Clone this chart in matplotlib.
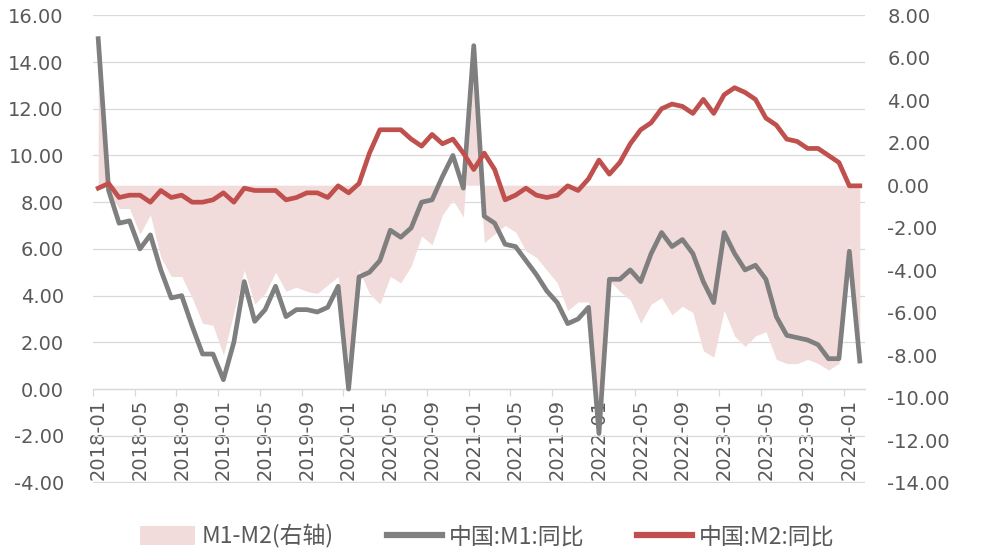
import numpy as np
import pandas as pd
import matplotlib
matplotlib.use('Agg')
import matplotlib.pyplot as plt
from matplotlib.patches import Patch
from matplotlib.lines import Line2D

plt.rcParams['font.family'] = ['DejaVu Sans', 'Noto Sans CJK SC']
plt.rcParams['axes.unicode_minus'] = False

# monthly data 2018-01 .. 2024-02
months = pd.date_range('2018-01-01', '2024-02-01', freq='MS').strftime('%Y-%m').tolist()

# China M1 YoY (%)
m1 = [15.0, 8.5, 7.1, 7.2, 6.0, 6.6, 5.1, 3.9, 4.0, 2.7, 1.5, 1.5,
      0.4, 2.0, 4.6, 2.9, 3.4, 4.4, 3.1, 3.4, 3.4, 3.3, 3.5, 4.4,
      0.0, 4.8, 5.0, 5.5, 6.8, 6.5, 6.9, 8.0, 8.1, 9.1, 10.0, 8.6,
      14.7, 7.4, 7.1, 6.2, 6.1, 5.5, 4.9, 4.2, 3.7, 2.8, 3.0, 3.5,
      -1.9, 4.7, 4.7, 5.1, 4.6, 5.8, 6.7, 6.1, 6.4, 5.8, 4.6, 3.7,
      6.7, 5.8, 5.1, 5.3, 4.7, 3.1, 2.3, 2.2, 2.1, 1.9, 1.3, 1.3,
      5.9, 1.2]

# China M2 YoY (%)
m2 = [8.6, 8.8, 8.2, 8.3, 8.3, 8.0, 8.5, 8.2, 8.3, 8.0, 8.0, 8.1,
      8.4, 8.0, 8.6, 8.5, 8.5, 8.5, 8.1, 8.2, 8.4, 8.4, 8.2, 8.7,
      8.4, 8.8, 10.1, 11.1, 11.1, 11.1, 10.7, 10.4, 10.9, 10.5, 10.7, 10.1,
      9.4, 10.1, 9.4, 8.1, 8.3, 8.6, 8.3, 8.2, 8.3, 8.7, 8.5, 9.0,
      9.8, 9.2, 9.7, 10.5, 11.1, 11.4, 12.0, 12.2, 12.1, 11.8, 12.4, 11.8,
      12.6, 12.9, 12.7, 12.4, 11.6, 11.3, 10.7, 10.6, 10.3, 10.3, 10.0, 9.7,
      8.7, 8.7]

spread = np.array(m1) - np.array(m2)  # M1-M2, right axis
x = np.arange(len(months))

label_color = '#595959'
grid_color = '#d9d9d9'

fig = plt.figure(figsize=(10.04, 5.51), dpi=100)
ax = fig.add_axes([93 / 1004, 1 - 482.5 / 551, (865 - 93) / 1004, (482.5 - 15.3) / 551])
ax2 = ax.twinx()   # fill, right axis
ax3 = ax.twinx()   # lines, left scale, drawn on top

# left axis: grid + labels
ax.set_ylim(-4, 16)
ax.set_yticks(np.arange(-4, 17, 2))
ax.set_yticklabels([f'{v:.2f}' for v in np.arange(-4, 17, 2)])
ax.grid(axis='y', color=grid_color, linewidth=0.9)
ax.tick_params(axis='y', length=0, pad=21, labelsize=14, labelcolor=label_color)
for s in ['top', 'right', 'left']:
    ax.spines[s].set_visible(False)
ax.spines['bottom'].set_position(('data', 0))
ax.spines['bottom'].set_color(grid_color)
ax.spines['bottom'].set_linewidth(0.9)

ax.set_xlim(-0.5, len(months) - 0.5)
ax.set_xticks(x[::4])
ax.set_xticklabels(months[::4], rotation=90)
ax.set_xticks(x[::4] - 0.5, minor=True)
ax.tick_params(axis='x', which='major', length=0, pad=7, labelsize=14, labelcolor=label_color)
ax.tick_params(axis='x', which='minor', length=5, width=0.9, color=grid_color, direction='out')

# right axis: M1-M2 area
ax2.fill_between(x, spread, 0, color='#f2dcdb', linewidth=0)
ax2.set_ylim(-14, 8)
ax2.set_yticks(np.arange(-14, 9, 2))
ax2.set_yticklabels([f'{v:.2f}' for v in np.arange(-14, 9, 2)])
ax2.tick_params(axis='y', length=0, pad=16, labelsize=14, labelcolor=label_color)
for s in ax2.spines.values():
    s.set_visible(False)

# lines on left scale
ax3.plot(x, m1, color='#7f7f7f', linewidth=3.4, solid_joinstyle='round')
ax3.plot(x, m2, color='#c0504d', linewidth=3.4, solid_joinstyle='round')
ax3.set_ylim(-4, 16)
ax3.set_yticks([])
for s in ax3.spines.values():
    s.set_visible(False)
ax3.set_xlim(-0.5, len(months) - 0.5)

handles = [
    Patch(facecolor='#f2dcdb', edgecolor='none'),
    Line2D([0], [0], color='#7f7f7f', linewidth=4.5),
    Line2D([0], [0], color='#c0504d', linewidth=4.5),
]
labels = ['M1-M2(右轴)', '中国:M1:同比', '中国:M2:同比']
fig.legend(handles, labels, loc='center', bbox_to_anchor=(0.485, 0.026), ncol=3,
           frameon=False, handlelength=2.4, handleheight=0.9, handletextpad=0.3,
           columnspacing=2.3,
           prop={'family': ['Noto Sans CJK SC', 'DejaVu Sans'], 'size': 16.5},
           labelcolor=label_color)

fig.savefig('out.png', dpi=100)
